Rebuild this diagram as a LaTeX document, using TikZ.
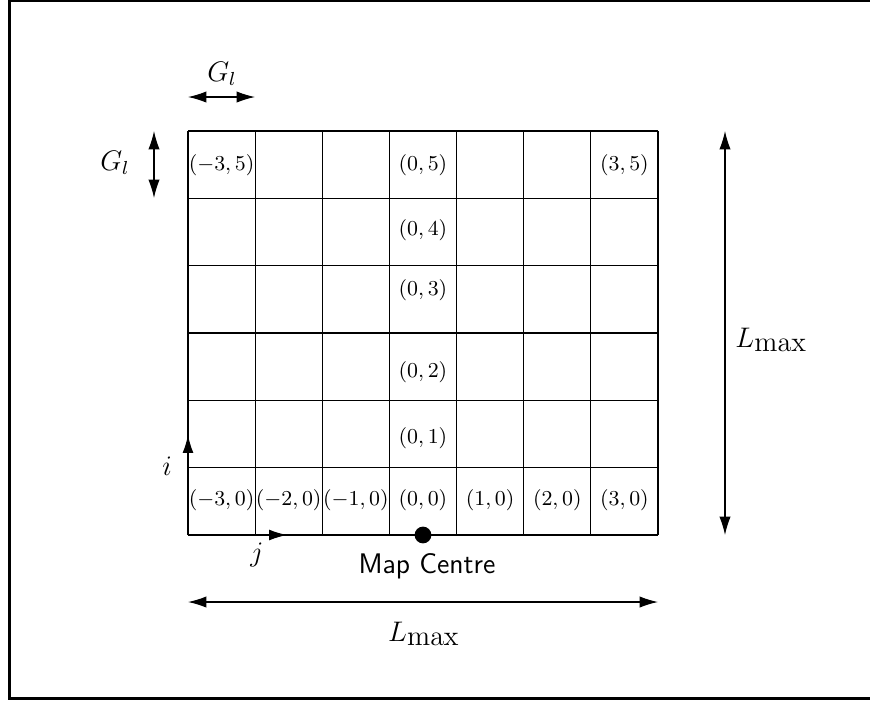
\documentclass[tikz,border=0pt]{standalone}
\usetikzlibrary{arrows.meta}
\begin{document}
\begin{tikzpicture}[x=0.4237pt,y=-0.4237pt,
  gridline/.style={line width=0.5pt},
  dimline/.style={line width=0.5pt,{Latex[length=7.8pt,width=4.8pt]}-{Latex[length=7.8pt,width=4.8pt]}},
  axisline/.style={line width=0.5pt,-{Latex[length=7.6pt,width=4.6pt]}},
  cell/.style={font=\small,inner sep=0pt},
  lab/.style={font=\large,inner sep=0pt}]
\useasboundingbox (0,0) rectangle (870,700);
% frame
\draw[line width=1.15pt] (9.7,0.5) rectangle (900,698.5);
% grid
\foreach \k in {0,...,7} \draw[gridline] ({188+\k*470/7},131) -- ({188+\k*470/7},535);
\foreach \k in {0,...,6} \draw[gridline] (188,{131+\k*404/6}) -- (658,{131+\k*404/6});
% cell labels
\node[cell] (cm3r5) at (221.6,165) {$(-3,5)$};
\node[cell] (c0r5) at (423,165) {$(0,5)$};
\node[cell] (c3r5) at (624.4,165) {$(3,5)$};
\node[cell] (c0r4) at (423,230) {$(0,4)$};
\node[cell] (c0r3) at (423,290) {$(0,3)$};
\node[cell] (c0r2) at (423,372) {$(0,2)$};
\node[cell] (c0r1) at (423,438) {$(0,1)$};
\node[cell] (cm3r0) at (221.6,500) {$(-3,0)$};
\node[cell] (cm2r0) at (288.7,500) {$(-2,0)$};
\node[cell] (cm1r0) at (355.9,500) {$(-1,0)$};
\node[cell] (c0r0) at (423,500) {$(0,0)$};
\node[cell] (c1r0) at (490.1,500) {$(1,0)$};
\node[cell] (c2r0) at (557.3,500) {$(2,0)$};
\node[cell] (c3r0) at (624.4,500) {$(3,0)$};
% axes
\coordinate (O) at (188,535);
\coordinate (itip) at (188,435);
\coordinate (jtip) at (287,535);
\draw[axisline] (O) -- (itip);
\draw[axisline] (O) -- (jtip);
\node[lab] (ilab) at (167,466) {$i$};
\node[lab] (jlab) at (257,555) {$j$};
% map centre
\node[circle,fill=black,minimum size=7.1pt,inner sep=0pt] (mc) at (423,535) {};
\node[lab,font=\large\sffamily] (mclab) at (427,566) {Map Centre};
% L max vertical
\coordinate (lvt) at (725,131);
\coordinate (lvb) at (725,535);
\draw[dimline] (lvt) -- (lvb);
\node[lab,anchor=west] (lvlab) at (735,340) {$L_{\textstyle\mathrm{max}}$};
% L max horizontal
\coordinate (lhl) at (188,602);
\coordinate (lhr) at (658,602);
\draw[dimline] (lhl) -- (lhr);
\node[lab] (lhlab) at (424,634) {$L_{\textstyle\mathrm{max}}$};
% G_l horizontal
\coordinate (ghl) at (188,97);
\coordinate (ghr) at (255,97);
\draw[dimline] (ghl) -- (ghr);
\node[lab] (ghlab) at (222,74) {$G_l$};
% G_l vertical
\coordinate (gvt) at (154,131);
\coordinate (gvb) at (154,198);
\draw[dimline] (gvt) -- (gvb);
\node[lab] (gvlab) at (115,163) {$G_l$};
\end{tikzpicture}
\end{document}
